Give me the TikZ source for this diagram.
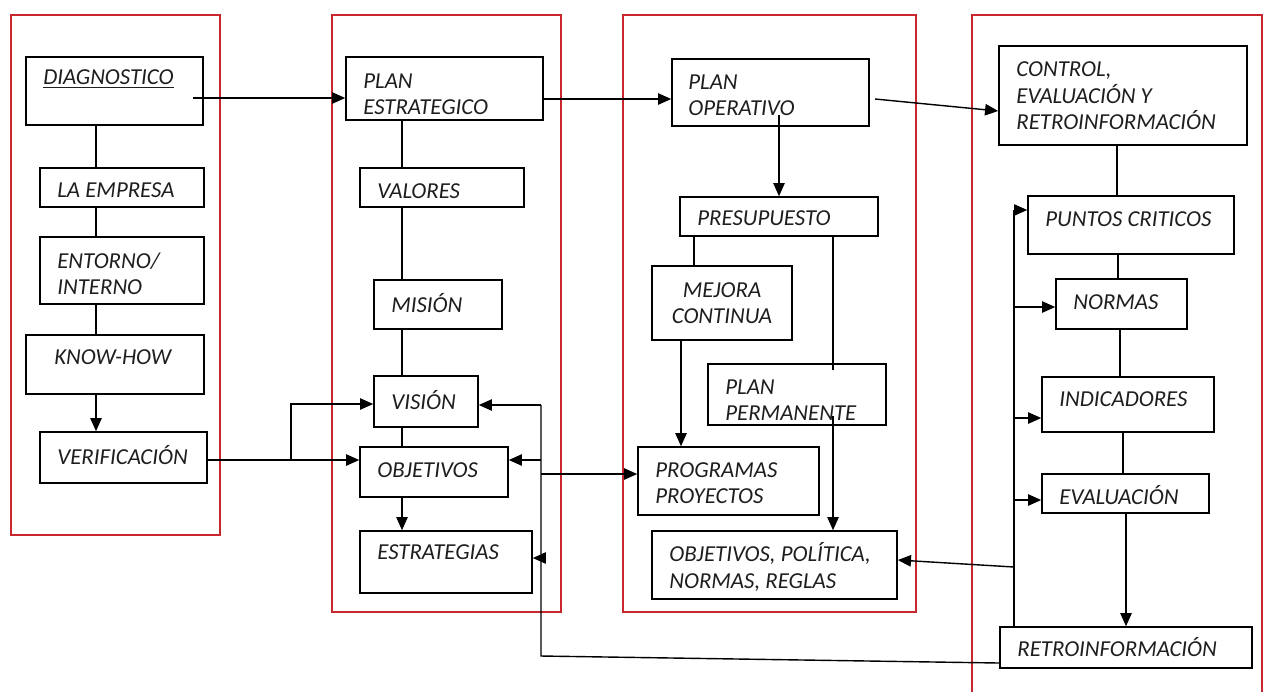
\documentclass[tikz,border=0pt]{standalone}
\usepackage{fontspec}
\setmainfont{Carlito}
\usetikzlibrary{arrows.meta,fit}
\definecolor{redc}{RGB}{200,40,45}
\definecolor{txtc}{RGB}{30,30,30}
\begin{document}
\begin{tikzpicture}[x=0.02cm,y=-0.02cm,
  bx/.style={draw=black, line width=0.9pt, inner sep=0pt},
  redbox/.style={draw=redc, line width=1.4pt},
  tx/.style={anchor=west, inner sep=0pt, align=left, font=\fontsize{13}{15}\selectfont\itshape, text=txtc},
  ln/.style={line width=0.8pt},
  arr/.style={ln, -{Triangle[length=7.5pt,width=6.5pt]}}]
\useasboundingbox (0,0) rectangle (1266,691);
\clip (0,0) rectangle (1266,691);
\fill[white] (0,0) rectangle (1266,691);

% red column frames
\draw[redbox] (11,15) rectangle (220,535);
\draw[redbox] (332,15) rectangle (561,612);
\draw[redbox] (623,15) rectangle (916,612);
\draw[redbox] (972,15) rectangle (1262,720);

% column 1
\node[bx, fit={(26,57) (203,125)}] (diag) {};
\node[bx, fit={(40,168) (204,207)}] (emp) {};
\node[bx, fit={(40,237) (204,304)}] (ent) {};
\node[bx, fit={(26,335) (204,394)}] (know) {};
\node[bx, fit={(40,432) (207,483)}] (verif) {};
\node[tx] (tdiag) at (43,79) {\underline{DIAGNOSTICO}};
\node[tx] (temp) at (57,190) {LA EMPRESA};
\node[tx] (tent) at (57,274) {ENTORNO/\\INTERNO};
\node[tx] (tknow) at (54,357) {KNOW-HOW};
\node[tx] (tverif) at (57,455) {VERIFICACIÓN};

% column 2
\node[bx, fit={(346,57) (543,120)}] (pest) {};
\node[bx, fit={(360,168) (524,207)}] (val) {};
\node[bx, fit={(374,280) (502,329)}] (mis) {};
\node[bx, fit={(374,376) (478,427)}] (vis) {};
\node[bx, fit={(360,447) (508,497)}] (obj) {};
\node[bx, fit={(360,531) (532,593)}] (estr) {};
\node[tx] (tpest) at (363,94) {PLAN\\ESTRATEGICO};
\node[tx] (tval) at (377,191) {VALORES};
\node[tx] (tmis) at (391,303) {MISIÓN};
\node[tx] (tvis) at (391,400) {VISIÓN};
\node[tx] (tobj) at (377,470) {OBJETIVOS};
\node[tx] (testr) at (377,552) {ESTRATEGIAS};

% column 3
\node[bx, fit={(672,59) (869,126)}] (pop) {};
\node[bx, fit={(680,197) (878,236)}] (pres) {};
\node[bx, fit={(652,266) (792,340)}] (mej) {};
\node[bx, fit={(708,364) (886,425)}] (perm) {};
\node[bx, fit={(638,447) (819,515)}] (prog) {};
\node[bx, fit={(652,531) (897,599)}] (opol) {};
\node[tx] (tpop) at (688,95) {PLAN\\OPERATIVO};
\node[tx] (tpres) at (697,218) {PRESUPUESTO};
\node[tx, anchor=center, align=center] (tmej) at (722,303) {MEJORA\\CONTINUA};
\node[tx] (tperm) at (725,400) {PLAN\\PERMANENTE};
\node[tx] (tprog) at (655,483) {PROGRAMAS\\PROYECTOS};
\node[tx] (topol) at (669,567) {OBJETIVOS, POLÍTICA,\\NORMAS, REGLAS};

% column 4
\node[bx, fit={(999,46) (1247,145)}] (ctrl) {};
\node[bx, fit={(1028,196) (1234,254)}] (pc) {};
\node[bx, fit={(1056,279) (1187,329)}] (nor) {};
\node[bx, fit={(1042,377) (1214,432)}] (ind) {};
\node[bx, fit={(1042,474) (1209,513)}] (ev) {};
\node[bx, fit={(1000,627) (1252,668)}] (retro) {};
\node[tx] (tctrl) at (1016,96) {CONTROL,\\EVALUACIÓN Y\\RETROINFORMACIÓN};
\node[tx] (tpc) at (1045,219) {PUNTOS CRITICOS};
\node[tx] (tnor) at (1073,302) {NORMAS};
\node[tx] (tind) at (1059,399) {INDICADORES};
\node[tx] (tev) at (1059,495) {EVALUACIÓN};
\node[tx] (tretro) at (1017,647) {RETROINFORMACIÓN};

% helper coordinates
\coordinate (br) at (291,460);
\coordinate (fb) at (541,656);
\coordinate (fr) at (1014,567);

% column 1 connectors
\draw[ln] (diag.south -| 96,0) -- (emp.north -| 96,0);
\draw[ln] (emp.south -| 96,0) -- (ent.north -| 96,0);
\draw[ln] (ent.south -| 96,0) -- (know.north -| 96,0);
\draw[arr] (know.south -| 96,0) -- (verif.north -| 96,0);

% horizontal main flow
\draw[arr] (193,98) -- (pest.west |- 0,98);
\draw[arr] (pest.east |- 0,99) -- (pop.west |- 0,99);
\draw[arr] (875,99) -- (ctrl.west |- 0,111);

% verification to vision/objectives
\draw[arr] (verif.east |- br) -- (obj.west |- br);
\draw[arr] (br) |- (vis.west |- 0,404);

% column 2 connectors
\draw[ln] (pest.south -| 402,0) -- (val.north -| 402,0);
\draw[ln] (val.south -| 402,0) -- (mis.north -| 402,0);
\draw[ln] (mis.south -| 402,0) -- (vis.north -| 402,0);
\draw[ln] (vis.south -| 402,0) -- (obj.north -| 402,0);
\draw[arr] (obj.south -| 402,0) -- (estr.north -| 402,0);

% feedback from retroinformacion
\draw[ln] (retro.west |- 0,663) -- (fb) -- (fb |- 0,405);
\draw[arr] (fb |- 0,405) -- (vis.east |- 0,405);
\draw[arr] (fb |- 0,460) -- (obj.east |- 0,460);
\draw[arr] (fb |- 0,558) -- (estr.east |- 0,558);
\draw[arr] (fb |- 0,474) -- (prog.west |- 0,474);

% column 3 connectors
\draw[arr] (779,115) -- (pres.north -| 779,0);
\draw[ln] (pres.south -| 694,0) -- (mej.north -| 694,0);
\draw[arr] (mej.south -| 681,0) -- (prog.north -| 681,0);
\draw[ln] (pres.south -| 833,0) -- (833,370);
\draw[arr] (833,416) -- (opol.north -| 833,0);

% column 4 connectors
\draw[ln] (ctrl.south -| 1117,0) -- (pc.north -| 1117,0);
\draw[ln] (pc.south -| 1118,0) -- (nor.north -| 1118,0);
\draw[ln] (nor.south -| 1120,0) -- (ind.north -| 1120,0);
\draw[ln] (ind.south -| 1123,0) -- (ev.north -| 1123,0);
\draw[arr] (ev.south -| 1126,0) -- (retro.north -| 1126,0);
\draw[ln] (retro.north -| 1014,0) -- (1014,210);
\draw[arr] (1014,210) -- (pc.west |- 0,210);
\draw[arr] (1014,307) -- (nor.west |- 0,307);
\draw[arr] (1014,418) -- (ind.west |- 0,418);
\draw[arr] (1014,500) -- (ev.west |- 0,500);
\draw[arr] (fr) -- (opol.east |- 0,560);
\end{tikzpicture}
\end{document}
